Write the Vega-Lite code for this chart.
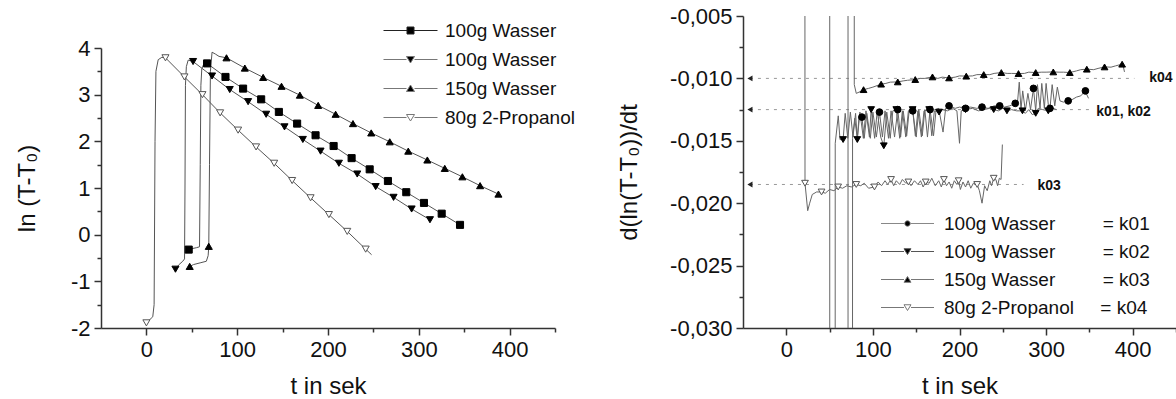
{
"$schema": "https://vega.github.io/schema/vega-lite/v6.json",
"padding": {"left": 15, "top": 5, "right": 0, "bottom": 0},
"background": "white",
"spacing": 42,
"config": {
 "font": "Liberation Sans",
 "view": {"stroke": null},
 "axis": {"grid": false, "domainColor": "#333", "domainWidth": 1.5, "tickColor": "#333", "tickWidth": 1.5, "labelFont": "Liberation Sans", "labelFontSize": 22, "labelColor": "#111", "titleFont": "Liberation Sans", "titleFontSize": 24, "titleFontWeight": "normal", "titleColor": "#111", "labelPadding": 4, "labelOverlap": false, "labelFlush": false},
 "legend": {"title": null, "labelFont": "Liberation Sans", "labelFontSize": 19, "labelColor": "#111", "labelLimit": 0, "padding": 0, "symbolStrokeWidth": 1}
},
"datasets": {
 "L_lines": [
  {"s":"a","t":46.6,"v":-0.32},{"s":"a","t":50,"v":-0.30},{"s":"a","t":55,"v":-0.28},{"s":"a","t":58.5,"v":-0.26},{"s":"a","t":59.3,"v":1.5},{"s":"a","t":60,"v":3.2},{"s":"a","t":61,"v":3.55},{"s":"a","t":63,"v":3.65},{"s":"a","t":66.8,"v":3.67},{"s":"a","t":87.1,"v":3.38},{"s":"a","t":106.5,"v":3.13},{"s":"a","t":126.4,"v":2.90},{"s":"a","t":145.9,"v":2.63},{"s":"a","t":166,"v":2.38},{"s":"a","t":186.3,"v":2.13},{"s":"a","t":206.2,"v":1.90},{"s":"a","t":226,"v":1.64},{"s":"a","t":245.9,"v":1.40},{"s":"a","t":266,"v":1.15},{"s":"a","t":286.2,"v":0.91},{"s":"a","t":305.7,"v":0.68},{"s":"a","t":325.2,"v":0.45},{"s":"a","t":345.4,"v":0.21},
  {"s":"b","t":32,"v":-0.74},{"s":"b","t":36,"v":-0.64},{"s":"b","t":40,"v":-0.57},{"s":"b","t":42,"v":-0.52},{"s":"b","t":42.5,"v":1.0},{"s":"b","t":43,"v":3.2},{"s":"b","t":44,"v":3.6},{"s":"b","t":46,"v":3.74},{"s":"b","t":51.4,"v":3.71},{"s":"b","t":72.3,"v":3.40},{"s":"b","t":91.8,"v":3.11},{"s":"b","t":112,"v":2.85},{"s":"b","t":131.9,"v":2.58},{"s":"b","t":152.1,"v":2.31},{"s":"b","t":172.3,"v":2.04},{"s":"b","t":191.8,"v":1.79},{"s":"b","t":212,"v":1.53},{"s":"b","t":232.2,"v":1.30},{"s":"b","t":252.5,"v":1.03},{"s":"b","t":272.2,"v":0.80},{"s":"b","t":292.1,"v":0.55},{"s":"b","t":312.3,"v":0.32},
  {"s":"c","t":47.7,"v":-0.68},{"s":"c","t":52,"v":-0.64},{"s":"c","t":60,"v":-0.60},{"s":"c","t":66,"v":-0.57},{"s":"c","t":68,"v":-0.45},{"s":"c","t":68.7,"v":-0.25},{"s":"c","t":69.5,"v":1.5},{"s":"c","t":70.5,"v":3.5},{"s":"c","t":72.3,"v":3.91},{"s":"c","t":76,"v":3.87},{"s":"c","t":80,"v":3.82},{"s":"c","t":88.2,"v":3.79},{"s":"c","t":108.4,"v":3.57},{"s":"c","t":128.6,"v":3.37},{"s":"c","t":148.8,"v":3.18},{"s":"c","t":169,"v":2.99},{"s":"c","t":189.2,"v":2.77},{"s":"c","t":208.4,"v":2.58},{"s":"c","t":227.5,"v":2.38},{"s":"c","t":247.6,"v":2.18},{"s":"c","t":268,"v":1.99},{"s":"c","t":288.4,"v":1.79},{"s":"c","t":309.4,"v":1.60},{"s":"c","t":328.6,"v":1.42},{"s":"c","t":348,"v":1.24},{"s":"c","t":367.5,"v":1.05},{"s":"c","t":387.7,"v":0.87},
  {"s":"d","t":0,"v":-1.89},{"s":"d","t":7,"v":-1.76},{"s":"d","t":8.5,"v":-1.5},{"s":"d","t":9.5,"v":2.0},{"s":"d","t":10.5,"v":3.5},{"s":"d","t":13,"v":3.75},{"s":"d","t":17,"v":3.8},{"s":"d","t":21,"v":3.79},{"s":"d","t":41.9,"v":3.38},{"s":"d","t":61.7,"v":3.0},{"s":"d","t":81.2,"v":2.61},{"s":"d","t":101,"v":2.24},{"s":"d","t":120.8,"v":1.88},{"s":"d","t":140.7,"v":1.53},{"s":"d","t":160.5,"v":1.16},{"s":"d","t":180.8,"v":0.79},{"s":"d","t":201,"v":0.43},{"s":"d","t":221.2,"v":0.07},{"s":"d","t":241.5,"v":-0.31},{"s":"d","t":248,"v":-0.43}
 ],
 "L_marks": [
  {"s":"a","t":46.6,"v":-0.32},{"s":"a","t":66.8,"v":3.67},{"s":"a","t":87.1,"v":3.38},{"s":"a","t":106.5,"v":3.13},{"s":"a","t":126.4,"v":2.90},{"s":"a","t":145.9,"v":2.63},{"s":"a","t":166,"v":2.38},{"s":"a","t":186.3,"v":2.13},{"s":"a","t":206.2,"v":1.90},{"s":"a","t":226,"v":1.64},{"s":"a","t":245.9,"v":1.40},{"s":"a","t":266,"v":1.15},{"s":"a","t":286.2,"v":0.91},{"s":"a","t":305.7,"v":0.68},{"s":"a","t":325.2,"v":0.45},{"s":"a","t":345.4,"v":0.21},
  {"s":"b","t":32,"v":-0.74},{"s":"b","t":51.4,"v":3.71},{"s":"b","t":72.3,"v":3.40},{"s":"b","t":91.8,"v":3.11},{"s":"b","t":112,"v":2.85},{"s":"b","t":131.9,"v":2.58},{"s":"b","t":152.1,"v":2.31},{"s":"b","t":172.3,"v":2.04},{"s":"b","t":191.8,"v":1.79},{"s":"b","t":212,"v":1.53},{"s":"b","t":232.2,"v":1.30},{"s":"b","t":252.5,"v":1.03},{"s":"b","t":272.2,"v":0.80},{"s":"b","t":292.1,"v":0.55},{"s":"b","t":312.3,"v":0.32},
  {"s":"c","t":47.7,"v":-0.68},{"s":"c","t":68.7,"v":-0.25},{"s":"c","t":88.2,"v":3.79},{"s":"c","t":108.4,"v":3.57},{"s":"c","t":128.6,"v":3.37},{"s":"c","t":148.8,"v":3.18},{"s":"c","t":169,"v":2.99},{"s":"c","t":189.2,"v":2.77},{"s":"c","t":208.4,"v":2.58},{"s":"c","t":227.5,"v":2.38},{"s":"c","t":247.6,"v":2.18},{"s":"c","t":268,"v":1.99},{"s":"c","t":288.4,"v":1.79},{"s":"c","t":309.4,"v":1.60},{"s":"c","t":328.6,"v":1.42},{"s":"c","t":348,"v":1.24},{"s":"c","t":367.5,"v":1.05},{"s":"c","t":387.7,"v":0.87},
  {"s":"d","t":0,"v":-1.89},{"s":"d","t":21,"v":3.79},{"s":"d","t":41.9,"v":3.38},{"s":"d","t":61.7,"v":3.0},{"s":"d","t":81.2,"v":2.61},{"s":"d","t":101,"v":2.24},{"s":"d","t":120.8,"v":1.88},{"s":"d","t":140.7,"v":1.53},{"s":"d","t":160.5,"v":1.16},{"s":"d","t":180.8,"v":0.79},{"s":"d","t":201,"v":0.43},{"s":"d","t":221.2,"v":0.07},{"s":"d","t":241.5,"v":-0.31}
 ],
 "R_lines": [
  {"s":"a","t":60,"v":0.4},{"s":"a","t":71,"v":0.4},{"s":"a","t":71.6,"v":-0.5},{"s":"a","t":75.5,"v":-0.5},{"s":"a","t":76.5,"v":-0.0148},{"s":"a","t":79,"v":-0.0132},{"s":"a","t":82,"v":-0.0148},{"s":"a","t":84,"v":-0.0131},{"s":"a","t":87.3,"v":-0.0131},{"s":"a","t":90,"v":-0.0148},{"s":"a","t":93,"v":-0.0128},{"s":"a","t":97,"v":-0.0148},{"s":"a","t":100,"v":-0.0127},{"s":"a","t":104,"v":-0.0147},{"s":"a","t":107.6,"v":-0.0127},{"s":"a","t":111,"v":-0.0147},{"s":"a","t":114,"v":-0.0126},{"s":"a","t":118,"v":-0.0148},{"s":"a","t":121,"v":-0.0126},{"s":"a","t":125,"v":-0.0147},{"s":"a","t":128.7,"v":-0.0125},{"s":"a","t":132,"v":-0.0147},{"s":"a","t":135,"v":-0.0126},{"s":"a","t":139,"v":-0.0146},{"s":"a","t":142,"v":-0.0125},{"s":"a","t":146,"v":-0.0126},{"s":"a","t":150,"v":-0.0147},{"s":"a","t":153,"v":-0.0125},{"s":"a","t":157,"v":-0.0146},{"s":"a","t":160,"v":-0.0125},{"s":"a","t":163,"v":-0.0147},{"s":"a","t":166,"v":-0.0125},{"s":"a","t":170,"v":-0.0146},{"s":"a","t":173,"v":-0.0125},{"s":"a","t":176,"v":-0.0124},{"s":"a","t":181,"v":-0.0143},{"s":"a","t":184,"v":-0.0124},{"s":"a","t":187.9,"v":-0.0122},{"s":"a","t":195,"v":-0.0124},{"s":"a","t":200,"v":-0.0123},{"s":"a","t":207,"v":-0.0124},{"s":"a","t":213,"v":-0.0123},{"s":"a","t":220,"v":-0.0124},{"s":"a","t":226,"v":-0.0123},{"s":"a","t":233,"v":-0.0124},{"s":"a","t":240,"v":-0.0122},{"s":"a","t":246.4,"v":-0.0122},{"s":"a","t":252,"v":-0.0123},{"s":"a","t":258,"v":-0.0122},{"s":"a","t":264.4,"v":-0.0120},{"s":"a","t":267,"v":-0.0119},{"s":"a","t":269,"v":-0.0103},{"s":"a","t":271,"v":-0.0125},{"s":"a","t":273,"v":-0.0110},{"s":"a","t":276,"v":-0.0126},{"s":"a","t":279,"v":-0.0112},{"s":"a","t":282,"v":-0.0125},{"s":"a","t":285.4,"v":-0.0108},{"s":"a","t":288,"v":-0.0126},{"s":"a","t":290,"v":-0.0105},{"s":"a","t":293,"v":-0.0124},{"s":"a","t":295,"v":-0.0104},{"s":"a","t":298,"v":-0.0124},{"s":"a","t":300,"v":-0.0104},{"s":"a","t":303,"v":-0.0124},{"s":"a","t":304.5,"v":-0.0124},{"s":"a","t":307,"v":-0.0105},{"s":"a","t":310,"v":-0.0122},{"s":"a","t":313,"v":-0.0107},{"s":"a","t":316,"v":-0.0118},{"s":"a","t":320,"v":-0.0119},{"s":"a","t":325.5,"v":-0.0118},{"s":"a","t":330,"v":-0.0117},{"s":"a","t":335,"v":-0.0115},{"s":"a","t":340,"v":-0.0114},{"s":"a","t":345.4,"v":-0.0110},{"s":"a","t":347,"v":-0.0113},{"s":"a","t":349,"v":-0.0116},
  {"s":"b","t":40,"v":0.5},{"s":"b","t":50,"v":0.3},{"s":"b","t":50.4,"v":-0.5},{"s":"b","t":55.5,"v":-0.5},{"s":"b","t":56.5,"v":-0.0152},{"s":"b","t":60,"v":-0.0130},{"s":"b","t":62,"v":-0.0149},{"s":"b","t":65.6,"v":-0.0149},{"s":"b","t":68,"v":-0.0128},{"s":"b","t":71,"v":-0.0148},{"s":"b","t":74,"v":-0.0127},{"s":"b","t":77,"v":-0.0147},{"s":"b","t":80,"v":-0.0128},{"s":"b","t":82,"v":-0.0149},{"s":"b","t":85,"v":-0.0127},{"s":"b","t":89,"v":-0.0148},{"s":"b","t":92,"v":-0.0126},{"s":"b","t":96,"v":-0.0147},{"s":"b","t":98,"v":-0.0125},{"s":"b","t":102,"v":-0.0148},{"s":"b","t":105,"v":-0.0126},{"s":"b","t":109,"v":-0.0147},{"s":"b","t":112.6,"v":-0.0154},{"s":"b","t":116,"v":-0.0127},{"s":"b","t":120,"v":-0.0148},{"s":"b","t":123,"v":-0.0126},{"s":"b","t":127,"v":-0.0125},{"s":"b","t":131,"v":-0.0148},{"s":"b","t":134,"v":-0.0126},{"s":"b","t":138,"v":-0.0147},{"s":"b","t":141,"v":-0.0126},{"s":"b","t":145.9,"v":-0.0125},{"s":"b","t":149,"v":-0.0146},{"s":"b","t":152,"v":-0.0126},{"s":"b","t":156,"v":-0.0147},{"s":"b","t":159,"v":-0.0126},{"s":"b","t":165,"v":-0.0125},{"s":"b","t":168,"v":-0.0146},{"s":"b","t":171,"v":-0.0126},{"s":"b","t":176.4,"v":-0.0127},{"s":"b","t":180,"v":-0.0125},{"s":"b","t":186,"v":-0.0126},{"s":"b","t":192,"v":-0.0124},{"s":"b","t":197,"v":-0.0126},{"s":"b","t":200,"v":-0.0152},{"s":"b","t":202,"v":-0.0126},{"s":"b","t":207,"v":-0.0125},{"s":"b","t":215,"v":-0.0124},{"s":"b","t":222,"v":-0.0126},{"s":"b","t":228,"v":-0.0125},{"s":"b","t":235,"v":-0.0124},{"s":"b","t":239.5,"v":-0.0125},{"s":"b","t":245,"v":-0.0126},{"s":"b","t":250,"v":-0.0124},{"s":"b","t":254.8,"v":-0.0126},{"s":"b","t":260,"v":-0.0125},{"s":"b","t":266,"v":-0.0126},{"s":"b","t":272.7,"v":-0.0126},{"s":"b","t":276,"v":-0.0128},{"s":"b","t":280,"v":-0.0125},{"s":"b","t":284,"v":-0.0129},{"s":"b","t":288,"v":-0.0128},{"s":"b","t":291,"v":-0.0124},{"s":"b","t":296,"v":-0.0125},{"s":"b","t":302.5,"v":-0.0126},{"s":"b","t":308,"v":-0.0124},{"s":"b","t":312,"v":-0.0125},
  {"s":"c","t":60,"v":0.4},{"s":"c","t":77,"v":0.3},{"s":"c","t":78.5,"v":-0.0105},{"s":"c","t":80.8,"v":-0.0112},{"s":"c","t":84,"v":-0.0111},{"s":"c","t":89.2,"v":-0.0109},{"s":"c","t":95,"v":-0.0108},{"s":"c","t":100,"v":-0.0107},{"s":"c","t":109.5,"v":-0.01046},{"s":"c","t":115,"v":-0.0104},{"s":"c","t":120,"v":-0.0103},{"s":"c","t":128.7,"v":-0.01028},{"s":"c","t":135,"v":-0.0102},{"s":"c","t":140,"v":-0.01015},{"s":"c","t":148.9,"v":-0.01009},{"s":"c","t":155,"v":-0.0100},{"s":"c","t":160,"v":-0.0100},{"s":"c","t":168.8,"v":-0.00988},{"s":"c","t":175,"v":-0.0100},{"s":"c","t":180,"v":-0.0099},{"s":"c","t":187.9,"v":-0.00996},{"s":"c","t":195,"v":-0.0099},{"s":"c","t":200,"v":-0.0098},{"s":"c","t":207.8,"v":-0.00982},{"s":"c","t":215,"v":-0.0098},{"s":"c","t":220,"v":-0.0097},{"s":"c","t":228,"v":-0.00969},{"s":"c","t":235,"v":-0.0097},{"s":"c","t":240,"v":-0.0096},{"s":"c","t":248.3,"v":-0.00953},{"s":"c","t":255,"v":-0.0096},{"s":"c","t":260,"v":-0.0096},{"s":"c","t":268.1,"v":-0.00961},{"s":"c","t":275,"v":-0.0096},{"s":"c","t":280,"v":-0.0095},{"s":"c","t":288,"v":-0.00953},{"s":"c","t":295,"v":-0.0095},{"s":"c","t":300,"v":-0.0095},{"s":"c","t":308.3,"v":-0.00948},{"s":"c","t":315,"v":-0.0095},{"s":"c","t":320,"v":-0.0095},{"s":"c","t":327.4,"v":-0.00953},{"s":"c","t":335,"v":-0.0094},{"s":"c","t":340,"v":-0.0093},{"s":"c","t":347,"v":-0.00926},{"s":"c","t":355,"v":-0.0093},{"s":"c","t":360,"v":-0.0092},{"s":"c","t":367.5,"v":-0.00908},{"s":"c","t":375,"v":-0.0091},{"s":"c","t":380,"v":-0.0090},{"s":"c","t":387.8,"v":-0.00886},{"s":"c","t":389,"v":-0.0090},{"s":"c","t":390.5,"v":-0.00948},
  {"s":"d","t":15,"v":0.4},{"s":"d","t":20.2,"v":0.2},{"s":"d","t":21.6,"v":-0.0184},{"s":"d","t":24.7,"v":-0.0206},{"s":"d","t":27,"v":-0.0200},{"s":"d","t":30,"v":-0.0193},{"s":"d","t":35,"v":-0.0191},{"s":"d","t":40.7,"v":-0.0191},{"s":"d","t":45,"v":-0.0192},{"s":"d","t":50,"v":-0.0189},{"s":"d","t":55,"v":-0.0190},{"s":"d","t":59.9,"v":-0.0187},{"s":"d","t":65,"v":-0.0188},{"s":"d","t":70,"v":-0.0186},{"s":"d","t":75,"v":-0.0187},{"s":"d","t":80.8,"v":-0.0185},{"s":"d","t":86,"v":-0.0186},{"s":"d","t":90,"v":-0.0184},{"s":"d","t":95,"v":-0.0188},{"s":"d","t":101.8,"v":-0.0187},{"s":"d","t":106,"v":-0.0183},{"s":"d","t":110,"v":-0.0186},{"s":"d","t":114,"v":-0.0182},{"s":"d","t":117,"v":-0.0185},{"s":"d","t":121,"v":-0.0181},{"s":"d","t":124,"v":-0.0186},{"s":"d","t":127,"v":-0.0182},{"s":"d","t":131,"v":-0.0185},{"s":"d","t":134,"v":-0.0181},{"s":"d","t":138,"v":-0.0184},{"s":"d","t":141,"v":-0.0183},{"s":"d","t":144,"v":-0.0186},{"s":"d","t":148,"v":-0.0182},{"s":"d","t":152,"v":-0.0185},{"s":"d","t":155,"v":-0.0182},{"s":"d","t":158,"v":-0.0187},{"s":"d","t":161,"v":-0.0183},{"s":"d","t":165,"v":-0.0184},{"s":"d","t":168,"v":-0.0180},{"s":"d","t":172,"v":-0.0186},{"s":"d","t":176,"v":-0.0182},{"s":"d","t":179,"v":-0.0187},{"s":"d","t":182,"v":-0.0181},{"s":"d","t":185,"v":-0.0186},{"s":"d","t":188,"v":-0.0183},{"s":"d","t":191,"v":-0.0188},{"s":"d","t":194,"v":-0.0182},{"s":"d","t":197,"v":-0.0185},{"s":"d","t":199,"v":-0.0182},{"s":"d","t":201,"v":-0.0189},{"s":"d","t":204,"v":-0.0183},{"s":"d","t":207,"v":-0.0187},{"s":"d","t":210,"v":-0.0182},{"s":"d","t":213,"v":-0.0188},{"s":"d","t":216,"v":-0.0184},{"s":"d","t":220.4,"v":-0.0185},{"s":"d","t":223,"v":-0.0190},{"s":"d","t":226,"v":-0.0200},{"s":"d","t":229,"v":-0.0186},{"s":"d","t":232,"v":-0.0190},{"s":"d","t":235,"v":-0.0182},{"s":"d","t":237,"v":-0.0186},{"s":"d","t":239.5,"v":-0.0180},{"s":"d","t":242,"v":-0.0181},{"s":"d","t":244,"v":-0.0186},{"s":"d","t":246,"v":-0.0180},{"s":"d","t":248,"v":-0.0181},{"s":"d","t":249.5,"v":-0.0153}
 ],
 "R_marks": [
  {"s":"a","t":87.3,"v":-0.0131},{"s":"a","t":107.6,"v":-0.0127},{"s":"a","t":128.7,"v":-0.0125},{"s":"a","t":146,"v":-0.0126},{"s":"a","t":166,"v":-0.0125},{"s":"a","t":187.9,"v":-0.0122},{"s":"a","t":207,"v":-0.0124},{"s":"a","t":226,"v":-0.0123},{"s":"a","t":246.4,"v":-0.0122},{"s":"a","t":264.4,"v":-0.0120},{"s":"a","t":285.4,"v":-0.0108},{"s":"a","t":304.5,"v":-0.0124},{"s":"a","t":325.5,"v":-0.0118},{"s":"a","t":345.4,"v":-0.0110},
  {"s":"b","t":65.6,"v":-0.0149},{"s":"b","t":82,"v":-0.0149},{"s":"b","t":98,"v":-0.0125},{"s":"b","t":112.6,"v":-0.0154},{"s":"b","t":127,"v":-0.0125},{"s":"b","t":145.9,"v":-0.0125},{"s":"b","t":165,"v":-0.0125},{"s":"b","t":176.4,"v":-0.0127},{"s":"b","t":207,"v":-0.0125},{"s":"b","t":239.5,"v":-0.0125},{"s":"b","t":254.8,"v":-0.0126},{"s":"b","t":272.7,"v":-0.0126},{"s":"b","t":288,"v":-0.0128},{"s":"b","t":302.5,"v":-0.0126},
  {"s":"c","t":89.2,"v":-0.0109},{"s":"c","t":109.5,"v":-0.01046},{"s":"c","t":128.7,"v":-0.01028},{"s":"c","t":148.9,"v":-0.01009},{"s":"c","t":168.8,"v":-0.00988},{"s":"c","t":187.9,"v":-0.00996},{"s":"c","t":207.8,"v":-0.00982},{"s":"c","t":228,"v":-0.00969},{"s":"c","t":248.3,"v":-0.00953},{"s":"c","t":268.1,"v":-0.00961},{"s":"c","t":288,"v":-0.00953},{"s":"c","t":308.3,"v":-0.00948},{"s":"c","t":327.4,"v":-0.00953},{"s":"c","t":347,"v":-0.00926},{"s":"c","t":367.5,"v":-0.00908},{"s":"c","t":387.8,"v":-0.00886},
  {"s":"d","t":21.6,"v":-0.0184},{"s":"d","t":40.7,"v":-0.0191},{"s":"d","t":59.9,"v":-0.0187},{"s":"d","t":80.8,"v":-0.0185},{"s":"d","t":101.8,"v":-0.0187},{"s":"d","t":121,"v":-0.0181},{"s":"d","t":141,"v":-0.0183},{"s":"d","t":161,"v":-0.0183},{"s":"d","t":182,"v":-0.0181},{"s":"d","t":199,"v":-0.0182},{"s":"d","t":220.4,"v":-0.0185},{"s":"d","t":239.5,"v":-0.0180}
 ],
 "R_refs": [
  {"t":-42,"t2":402,"v":-0.010},{"t":-42,"t2":350,"v":-0.0125},{"t":-42,"t2":274,"v":-0.0185}
 ],
 "R_labels": [
  {"t":419,"v":-0.010,"lab":"k04"},{"t":358,"v":-0.0127,"lab":"k01, k02"},{"t":290,"v":-0.0186,"lab":"k03"}
 ]
},
"hconcat": [
 {
  "spacing": 4,
  "vconcat": [
   {"width": 10, "height": 1, "data": {"values": []}, "mark": "point"},
   {
    "width": 454, "height": 280,
    "encoding": {
     "x": {"field": "t", "type": "quantitative", "scale": {"domain": [-50, 450], "nice": false},
      "axis": {"title": "t in sek", "values": [0,50,100,150,200,250,300,350,400,450], "labelExpr": "datum.value % 100 != 0 ? '' : datum.label", "tickSize": {"condition": {"test": "datum.value % 100 != 0", "value": 4}, "value": 7}, "titlePadding": 14}},
     "y": {"field": "v", "type": "quantitative", "scale": {"domain": [-2, 4], "nice": false},
      "axis": {"title": "ln (T-T₀)", "values": [-2,-1.5,-1,-0.5,0,0.5,1,1.5,2,2.5,3,3.5,4], "labelExpr": "datum.value % 1 != 0 ? '' : replace(format(datum.value, 'd'), '−', '-')", "tickSize": {"condition": {"test": "datum.value % 1 != 0", "value": 4}, "value": 7}, "titlePadding": 31}}
    },
    "layer": [
     {"data": {"name": "L_lines"}, "mark": {"type": "line", "color": "#555", "strokeWidth": 1}, "encoding": {"detail": {"field": "s"}}},
     {"data": {"name": "L_marks"}, "mark": {"type": "point", "size": 50, "opacity": 1, "strokeWidth": 1},
      "encoding": {
       "shape": {"field": "s", "type": "nominal", "scale": {"domain": ["a","b","c","d"], "range": ["square","triangle-down","triangle-up","triangle-down"]}, "legend": null},
       "fill": {"field": "s", "type": "nominal", "scale": {"domain": ["a","b","c","d"], "range": ["black","black","black","white"]}, "legend": null},
       "stroke": {"field": "s", "type": "nominal", "scale": {"domain": ["a","b","c","d"], "range": ["black","black","black","#555"]}, "legend": null}
      }},
     {"data": {"name": "L_marks"}, "transform": [{"filter": "false"}], "mark": {"type": "point", "size": 100, "opacity": 1, "strokeWidth": 1},
      "encoding": {
       "shape": {"field": "s", "type": "nominal", "scale": {"domain": ["a","b","c","d"], "range": [
         "M-5.4,0H-0.7M0.7,0H5.4M-0.7,-0.7H0.7V0.7H-0.7Z",
         "M-5.4,0H-0.8M0.8,0H5.4M-0.8,-0.6H0.8L0,0.7Z",
         "M-5.4,0H-0.8M0.8,0H5.4M-0.8,0.6H0.8L0,-0.7Z",
         "M-5.4,0H-0.8M0.8,0H5.4M-0.8,-0.6H0.8L0,0.7Z"]},
        "legend": {"orient": "none", "legendX": 300, "legendY": -27, "rowPadding": 9, "labelOffset": 25,
         "labelExpr": "datum.label == 'a' ? '100g Wasser' : datum.label == 'b' ? '100g Wasser' : datum.label == 'c' ? '150g Wasser' : '\u00a0\u00a080g 2-Propanol'"}},
       "fill": {"field": "s", "type": "nominal", "scale": {"domain": ["a","b","c","d"], "range": ["black","black","black","white"]},
        "legend": {"orient": "none", "legendX": 300, "legendY": -27, "rowPadding": 9, "labelOffset": 25,
         "labelExpr": "datum.label == 'a' ? '100g Wasser' : datum.label == 'b' ? '100g Wasser' : datum.label == 'c' ? '150g Wasser' : '\u00a0\u00a080g 2-Propanol'"}},
       "stroke": {"field": "s", "type": "nominal", "scale": {"domain": ["a","b","c","d"], "range": ["#222","#777","#777","#777"]},
        "legend": {"orient": "none", "legendX": 300, "legendY": -27, "rowPadding": 9, "labelOffset": 25,
         "labelExpr": "datum.label == 'a' ? '100g Wasser' : datum.label == 'b' ? '100g Wasser' : datum.label == 'c' ? '150g Wasser' : '\u00a0\u00a080g 2-Propanol'"}}
      }}
    ],
    "resolve": {"scale": {"shape": "independent", "fill": "independent", "stroke": "independent"}}
   }
  ]
 },
 {
  "width": 433, "height": 312,
  "encoding": {
   "x": {"field": "t", "type": "quantitative", "scale": {"domain": [-50, 450], "nice": false},
    "axis": {"title": "t in sek", "values": [0,50,100,150,200,250,300,350,400,450], "labelExpr": "datum.value % 100 != 0 ? '' : datum.label", "tickSize": {"condition": {"test": "datum.value % 100 != 0", "value": 4}, "value": 7}, "titlePadding": 14}},
   "y": {"field": "v", "type": "quantitative", "scale": {"domain": [-0.03, -0.005], "nice": false},
    "axis": {"title": "d(ln(T-T₀))/dt", "values": [-0.03,-0.0275,-0.025,-0.0225,-0.02,-0.0175,-0.015,-0.0125,-0.01,-0.0075,-0.005], "labelExpr": "abs(datum.value*200 - round(datum.value*200)) > 0.1 ? '' : replace(replace(format(datum.value, '.3f'), '.', ','), '−', '-')", "tickSize": {"condition": {"test": "abs(datum.value*200 - round(datum.value*200)) > 0.1", "value": 4}, "value": 7}, "titlePadding": 28}}
  },
  "layer": [
   {"data": {"name": "R_refs"}, "mark": {"type": "rule", "color": "#999", "strokeDash": [3, 5], "strokeWidth": 1}, "encoding": {"x2": {"field": "t2"}}},
   {"data": {"name": "R_refs"}, "mark": {"type": "point", "shape": "triangle-left", "size": 35, "filled": true, "color": "#222", "opacity": 1}},
   {"data": {"name": "R_labels"}, "mark": {"type": "text", "align": "left", "baseline": "middle", "fontSize": 14, "fontWeight": "bold", "color": "#111", "font": "Liberation Sans"}, "encoding": {"text": {"field": "lab"}}},
   {"data": {"name": "R_lines"}, "mark": {"type": "line", "color": "#666", "strokeWidth": 1, "clip": true}, "encoding": {"detail": {"field": "s"}}},
   {"data": {"name": "R_marks"}, "mark": {"type": "point", "size": 45, "opacity": 1, "strokeWidth": 1},
    "encoding": {
     "shape": {"field": "s", "type": "nominal", "scale": {"domain": ["a","b","c","d"], "range": ["circle","triangle-down","triangle-up","triangle-down"]}, "legend": null},
     "fill": {"field": "s", "type": "nominal", "scale": {"domain": ["a","b","c","d"], "range": ["black","black","black","white"]}, "legend": null},
     "stroke": {"field": "s", "type": "nominal", "scale": {"domain": ["a","b","c","d"], "range": ["black","black","black","#555"]}, "legend": null}
    }},
   {"data": {"name": "R_marks"}, "transform": [{"filter": "false"}], "mark": {"type": "point", "size": 100, "opacity": 1, "strokeWidth": 1},
    "encoding": {
     "shape": {"field": "s", "type": "nominal", "scale": {"domain": ["a","b","c","d"], "range": [
       "M-5.3,0H-0.6M0.6,0H5.3M-0.55,0A0.55,0.55 0 1,0 0.55,0A0.55,0.55 0 1,0 -0.55,0Z",
       "M-5.3,0H-0.7M0.7,0H5.3M-0.7,-0.55H0.7L0,0.6Z",
       "M-5.3,0H-0.7M0.7,0H5.3M-0.7,0.55H0.7L0,-0.6Z",
       "M-5.3,0H-0.7M0.7,0H5.3M-0.7,-0.55H0.7L0,0.6Z"]},
      "legend": {"orient": "none", "legendX": 155, "legendY": 198, "rowPadding": 8, "labelOffset": 27,
       "labelExpr": "datum.label == 'a' ? '100g Wasser\u00a0\u00a0\u00a0\u00a0\u00a0\u00a0\u00a0\u00a0\u00a0= k01' : datum.label == 'b' ? '100g Wasser\u00a0\u00a0\u00a0\u00a0\u00a0\u00a0\u00a0\u00a0\u00a0= k02' : datum.label == 'c' ? '150g Wasser\u00a0\u00a0\u00a0\u00a0\u00a0\u00a0\u00a0\u00a0\u00a0= k03' : '\u00a0\u00a080g 2-Propanol\u00a0\u00a0\u00a0\u00a0\u00a0= k04'"}},
     "fill": {"field": "s", "type": "nominal", "scale": {"domain": ["a","b","c","d"], "range": ["black","black","black","white"]},
      "legend": {"orient": "none", "legendX": 155, "legendY": 198, "rowPadding": 8, "labelOffset": 27,
       "labelExpr": "datum.label == 'a' ? '100g Wasser\u00a0\u00a0\u00a0\u00a0\u00a0\u00a0\u00a0\u00a0\u00a0= k01' : datum.label == 'b' ? '100g Wasser\u00a0\u00a0\u00a0\u00a0\u00a0\u00a0\u00a0\u00a0\u00a0= k02' : datum.label == 'c' ? '150g Wasser\u00a0\u00a0\u00a0\u00a0\u00a0\u00a0\u00a0\u00a0\u00a0= k03' : '\u00a0\u00a080g 2-Propanol\u00a0\u00a0\u00a0\u00a0\u00a0= k04'"}},
     "stroke": {"field": "s", "type": "nominal", "scale": {"domain": ["a","b","c","d"], "range": ["#888","#555","#777","#777"]},
      "legend": {"orient": "none", "legendX": 155, "legendY": 198, "rowPadding": 8, "labelOffset": 27,
       "labelExpr": "datum.label == 'a' ? '100g Wasser\u00a0\u00a0\u00a0\u00a0\u00a0\u00a0\u00a0\u00a0\u00a0= k01' : datum.label == 'b' ? '100g Wasser\u00a0\u00a0\u00a0\u00a0\u00a0\u00a0\u00a0\u00a0\u00a0= k02' : datum.label == 'c' ? '150g Wasser\u00a0\u00a0\u00a0\u00a0\u00a0\u00a0\u00a0\u00a0\u00a0= k03' : '\u00a0\u00a080g 2-Propanol\u00a0\u00a0\u00a0\u00a0\u00a0= k04'"}}
    }}
  ],
  "resolve": {"scale": {"shape": "independent", "fill": "independent", "stroke": "independent"}}
 }
]
}
